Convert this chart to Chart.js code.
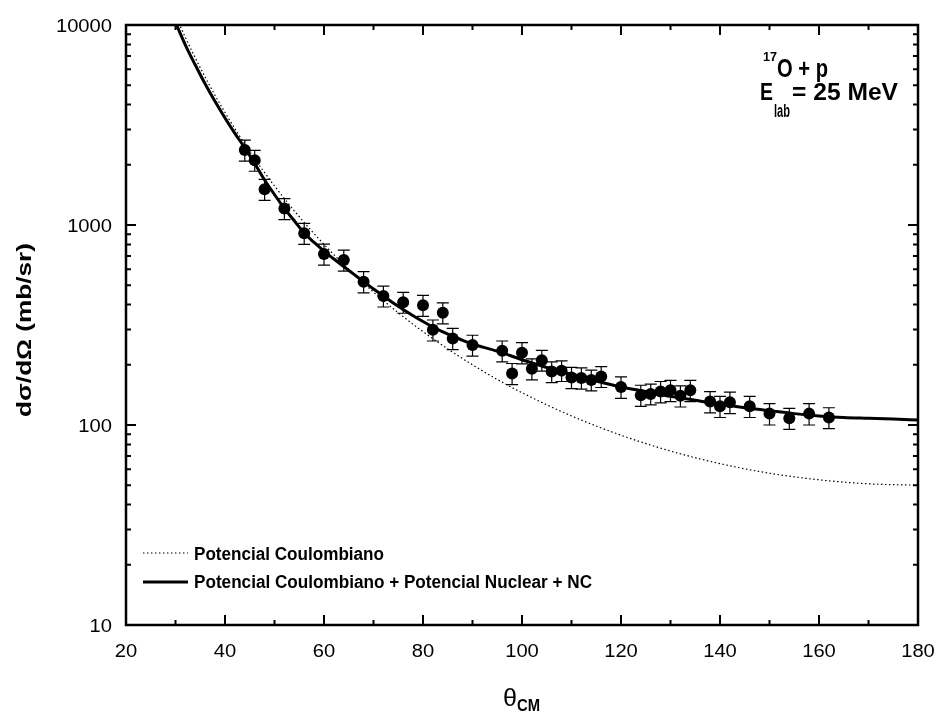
<!DOCTYPE html>
<html>
<head>
<meta charset="utf-8">
<title>17O + p</title>
<script src="https://cdn.jsdelivr.net/npm/chart.js@4/dist/chart.umd.min.js"></script>
<style>
  html, body { margin: 0; padding: 0; background: #fff; }
  #wrap { width: 939px; height: 713px; position: relative; }
</style>
</head>
<body>
<div id="wrap"><canvas id="chart"></canvas></div>
<script>
// measured points (theta_CM in degrees, cross section in mb/sr, error)
const dataAngles = [44, 46, 48, 52, 56, 60, 64, 68, 72, 76, 80, 82, 84, 86, 90, 96, 98, 100, 102, 104,
  106, 108, 110, 112, 114, 116, 120, 124, 126, 128, 130, 132, 134, 138, 140, 142, 146, 150, 154, 158, 162];
const dataValues = [2370, 2110, 1510, 1210, 909, 716, 668, 521, 442, 411, 397, 299, 364, 271, 251, 235, 181, 230, 191, 211,
  185, 187, 173, 172, 168, 175, 155, 141, 143, 147, 149, 140, 149, 131, 124, 130, 124, 114, 108, 114, 109];
const dataErrors = [284, 253, 181, 145, 109, 86, 80, 63, 53, 49, 48, 36, 44, 33, 30, 28, 22, 28, 23, 25,
  22, 22, 21, 21, 20, 21, 19, 17, 17, 18, 18, 17, 18, 16, 15, 16, 15, 14, 13, 14, 13];

// Coulomb + nuclear + NC (solid curve)
const fitAngles = [30, 32, 34, 36, 38, 40, 42, 44, 46, 48, 50, 52, 54, 56, 58, 60, 62, 64, 66, 68, 70, 72, 74, 76, 78,
  80, 82, 84, 86, 88, 90, 95, 100, 105, 110, 115, 120, 125, 130, 135, 140, 145, 150, 155, 160, 165, 170, 175, 180];
const fitValues = [10280, 7940, 6310, 5070, 4140, 3430, 2870, 2430, 2030, 1680, 1420, 1210, 1050, 912, 818, 741, 676, 619, 568, 521, 479, 442, 407, 378, 352,
  329, 309, 292, 278, 265, 254, 234, 212, 194, 179, 166, 155, 147, 139, 133, 127, 122, 118, 114, 111, 109, 108, 107, 106];

// Coulomb only (dotted curve)
const coulombAngles = [30, 32, 34, 36, 38, 40, 42, 44, 46, 48, 50, 55, 60, 65, 70, 75, 80, 85, 90, 95,
  100, 110, 120, 130, 140, 150, 160, 170, 180];
const coulombValues = [11140, 8665, 6840, 5484, 4449, 3654, 3031, 2539, 2145, 1827, 1567, 1100, 800, 600, 462, 364, 293, 240, 200, 169,
  145, 111, 88.9, 74.1, 64.1, 57.4, 53.2, 50.8, 50.0];

const xTicks = [20, 40, 60, 80, 100, 120, 140, 160, 180];
const xMinorTicks = [30, 50, 70, 90, 110, 130, 150, 170];
const yTicks = [10, 100, 1000, 10000];

const legendLabels = ["Potencial Coulombiano", "Potencial Coulombiano + Potencial Nuclear + NC"];

const FONT = '"Liberation Sans", Arial, sans-serif';

function pairs(xs, ys) {
  return xs.map((x, i) => ({ x, y: ys[i] }));
}

function drawText(ctx, txt, x, y, font, sx, align) {
  ctx.save();
  ctx.font = font;
  ctx.translate(x, y);
  ctx.scale(sx, 1);
  ctx.textAlign = align || "left";
  ctx.textBaseline = "alphabetic";
  ctx.fillText(txt, 0, 0);
  ctx.restore();
}

function fitText(ctx, txt, x, y, font, width, align) {
  ctx.save();
  ctx.font = font;
  const sx = width / ctx.measureText(txt).width;
  ctx.restore();
  drawText(ctx, txt, x, y, font, sx, align);
}

const errorBars = {
  id: "errorBars",
  afterDatasetsDraw(chart) {
    const { ctx, scales: { x, y } } = chart;
    ctx.save();
    ctx.strokeStyle = "#000";
    ctx.lineWidth = 1.2;
    dataAngles.forEach((a, i) => {
      const px = x.getPixelForValue(a);
      const top = y.getPixelForValue(dataValues[i] + dataErrors[i]);
      const bot = y.getPixelForValue(dataValues[i] - dataErrors[i]);
      ctx.beginPath();
      ctx.moveTo(px, top); ctx.lineTo(px, bot);
      ctx.moveTo(px - 6, top); ctx.lineTo(px + 6, top);
      ctx.moveTo(px - 6, bot); ctx.lineTo(px + 6, bot);
      ctx.stroke();
    });
    ctx.restore();
  }
};

const frame = {
  id: "frame",
  afterDraw(chart) {
    const { ctx, chartArea: a, scales: { x, y } } = chart;
    ctx.save();
    ctx.strokeStyle = "#000";
    ctx.fillStyle = "#000";

    // ticks, pointing inward on all four sides
    ctx.lineWidth = 2;
    ctx.beginPath();
    const xt = (v, len) => {
      const px = x.getPixelForValue(v);
      ctx.moveTo(px, a.bottom); ctx.lineTo(px, a.bottom - len);
      ctx.moveTo(px, a.top); ctx.lineTo(px, a.top + len);
    };
    const yt = (v, len) => {
      const py = y.getPixelForValue(v);
      ctx.moveTo(a.left, py); ctx.lineTo(a.left + len, py);
      ctx.moveTo(a.right, py); ctx.lineTo(a.right - len, py);
    };
    xTicks.forEach(v => xt(v, 10));
    xMinorTicks.forEach(v => xt(v, 5));
    yTicks.forEach(v => yt(v, 10));
    for (let d = 10; d < 10000; d *= 10) {
      for (let k = 2; k <= 9; k++) yt(k * d, 5);
    }
    ctx.stroke();

    ctx.lineWidth = 2.5;
    ctx.strokeRect(a.left, a.top, a.right - a.left, a.bottom - a.top);

    // tick labels
    const tickFont = "18px " + FONT;
    xTicks.forEach(v => drawText(ctx, String(v), x.getPixelForValue(v), 657, tickFont, 1.12, "center"));
    yTicks.forEach(v => drawText(ctx, String(v), 112, y.getPixelForValue(v) + 6.5, tickFont, 1.12, "right"));

    // axis titles
    ctx.save();
    ctx.translate(31, 330);
    ctx.rotate(-Math.PI / 2);
    fitText(ctx, "d\u03c3/d\u03a9 (mb/sr)", 0, 0, "bold 21px " + FONT, 174, "center");
    ctx.restore();
    fitText(ctx, "\u03b8", 503, 706, "23px " + FONT, 14, "left");
    fitText(ctx, "CM", 517, 711, "bold 16px " + FONT, 23, "left");

    // annotation
    fitText(ctx, "17", 763, 61, "bold 13px " + FONT, 14, "left");
    fitText(ctx, "O + p", 777, 77, "bold 26px " + FONT, 51, "left");
    fitText(ctx, "E", 760, 100, "bold 23px " + FONT, 13, "left");
    fitText(ctx, "lab", 774, 117, "bold 19px " + FONT, 16, "left");
    fitText(ctx, "= 25 MeV", 792, 100, "bold 23px " + FONT, 106, "left");

    // legend
    ctx.lineWidth = 1.2;
    ctx.setLineDash([1.5, 2.5]);
    ctx.beginPath(); ctx.moveTo(143, 553); ctx.lineTo(188, 553); ctx.stroke();
    ctx.setLineDash([]);
    ctx.lineWidth = 3;
    ctx.beginPath(); ctx.moveTo(143, 582); ctx.lineTo(188, 582); ctx.stroke();
    fitText(ctx, legendLabels[0], 194, 560, "bold 18px " + FONT, 190, "left");
    fitText(ctx, legendLabels[1], 194, 588, "bold 18px " + FONT, 398, "left");
    ctx.restore();
  }
};

new Chart(document.getElementById("chart"), {
  type: "scatter",
  data: {
    datasets: [
      {
        label: "Dados",
        data: pairs(dataAngles, dataValues),
        pointRadius: 6,
        pointBackgroundColor: "#000",
        pointBorderColor: "#000",
        pointBorderWidth: 0,
        showLine: false
      },
      {
        label: legendLabels[1],
        data: pairs(fitAngles, fitValues),
        showLine: true,
        borderColor: "#000",
        borderWidth: 3,
        pointRadius: 0,
        cubicInterpolationMode: "monotone"
      },
      {
        label: legendLabels[0],
        data: pairs(coulombAngles, coulombValues),
        showLine: true,
        borderColor: "#000",
        borderWidth: 1.2,
        borderDash: [1.5, 2.5],
        pointRadius: 0,
        cubicInterpolationMode: "monotone"
      }
    ]
  },
  options: {
    responsive: true,
    maintainAspectRatio: false,
    animation: false,
    devicePixelRatio: 1,
    layout: { padding: { left: 126, right: 21, top: 25, bottom: 88 } },
    plugins: { legend: { display: false }, tooltip: { enabled: false } },
    scales: {
      x: { type: "linear", min: 20, max: 180, display: false },
      y: { type: "logarithmic", min: 10, max: 10000, display: false }
    }
  },
  plugins: [errorBars, frame]
});
</script>
</body>
</html>
